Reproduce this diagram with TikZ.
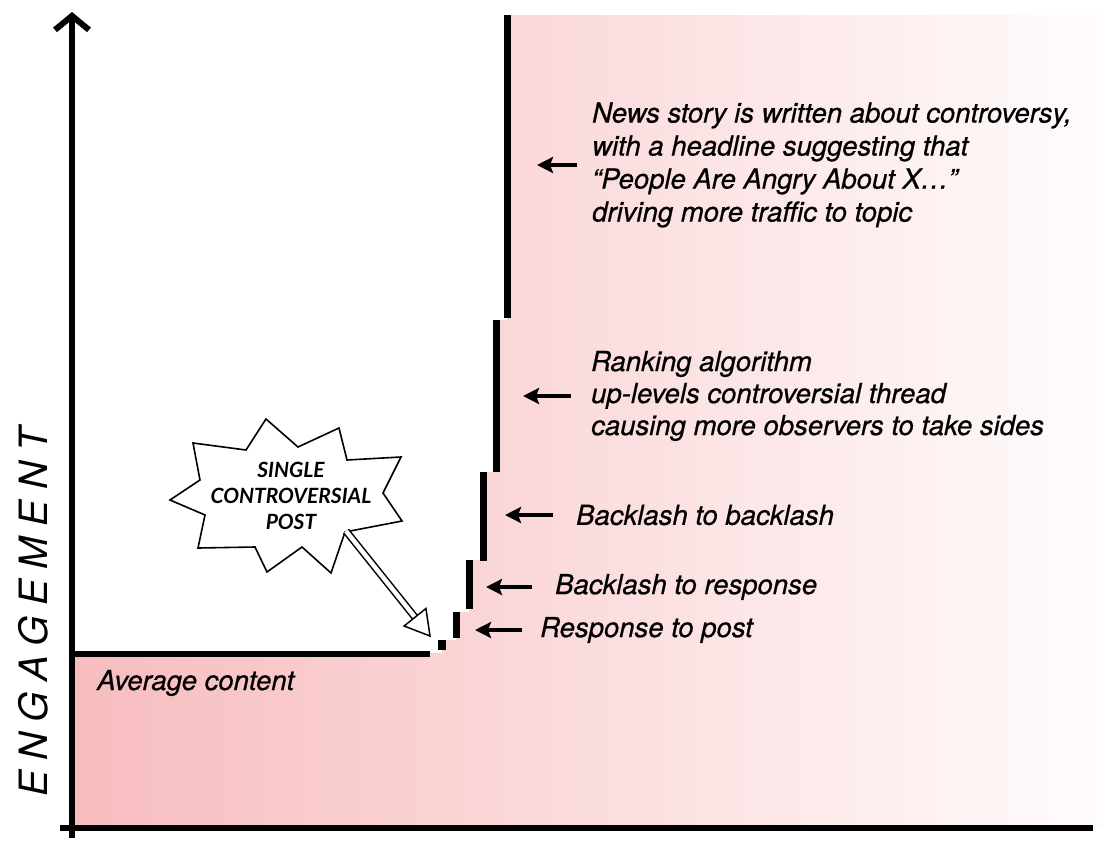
\documentclass[tikz,border=0pt]{standalone}
\usepackage{fontspec}
\setmainfont{TeX Gyre Heros}
\newfontfamily\burstfont{Lato}
\usetikzlibrary{arrows.meta,calc}
\definecolor{blush}{RGB}{247,188,190}
\definecolor{fade}{RGB}{255,252,252}
\tikzset{
  axis/.style={line width=6pt},
  stepline/.style={line width=7pt},
  pointer/.style={line width=3.6pt,-{Stealth[length=16pt,width=16pt,inset=3pt]}},
  note/.style={font=\fontsize{27.5}{32}\selectfont\itshape\addfontfeature{FakeBold=0.7},anchor=west,align=left,inner sep=0pt},
}
\begin{document}
\begin{tikzpicture}[x=1pt,y=-1pt]
\useasboundingbox (0,0) rectangle (1104,844);
% area under the curve
\shade[left color=blush,right color=fade]
 (72,653) -- (442,653) -- (442,640) -- (456,640) -- (456,612) -- (469,612)
 -- (469,560) -- (483,560) -- (483,472) -- (496,472) -- (496,320)
 -- (507,320) -- (507,15) -- (1104,15) -- (1104,828) -- (72,828) -- cycle;
% axes
\coordinate (ybot) at (72,838);
\coordinate (ytop) at (72,12);
\coordinate (xbeg) at (60,828);
\coordinate (xend) at (1093,828);
\draw[axis,-{Straight Barb[length=14pt,width=34pt]}] (ybot) -- (ytop);
\draw[axis] (xbeg) -- (xend);
\node[rotate=90,font=\fontsize{39}{39}\selectfont\itshape\addfontfeature{LetterSpace=27}] (ylab) at (33,612) {ENGAGEMENT};
% the steps
\coordinate (b0) at (72,654);
\coordinate (b1) at (430,654);
\draw[axis] (b0) -- (b1);
\fill (438,640) rectangle (446,650);
\coordinate (s1a) at (456,612); \coordinate (s1b) at (456,638);
\coordinate (s2a) at (469,560); \coordinate (s2b) at (469,609);
\coordinate (s3a) at (483,472); \coordinate (s3b) at (483,561);
\coordinate (s4a) at (496,320); \coordinate (s4b) at (496,472);
\coordinate (s5a) at (507,15);  \coordinate (s5b) at (507,318);
\draw[stepline] (s1a) -- (s1b);
\draw[stepline] (s2a) -- (s2b);
\draw[stepline] (s3a) -- (s3b);
\draw[stepline] (s4a) -- (s4b);
\draw[stepline] (s5a) -- (s5b);
% labels
\node[note] (avg) at (97,683) {Average content};
\node[note] (resp) at (540,630) {Response to post};
\node[note] (brsp) at (555,587) {Backlash to response};
\node[note] (bbl) at (576,515) {Backlash to backlash};
\node[note] (rank) at (591,396) {Ranking algorithm\\up-levels controversial thread\\causing more observers to take sides};
\node[note,font=\fontsize{27.5}{33}\selectfont\itshape\addfontfeature{FakeBold=0.7}] (news) at (592,165) {News story is written about controversy,\\with a headline suggesting that\\``People Are Angry About X\ldots''\\driving more traffic to topic};
\draw[pointer,shorten <=18pt,shorten >=19pt] (resp.west) -- (resp.west -| s1a);
\draw[pointer,shorten <=23pt,shorten >=17pt] (brsp.west) -- (brsp.west -| s2a);
\draw[pointer,shorten <=23pt,shorten >=22pt] (bbl.west) -- (bbl.west -| s3a);
\draw[pointer,shorten <=20pt,shorten >=27pt] (rank.west) -- (rank.west -| s4a);
\draw[pointer,shorten <=15pt,shorten >=30pt] (news.west) -- (news.west -| s5a);
% starburst
\draw[line width=1.6pt,fill=white,line join=miter]
 (266,419) -- (298,447) -- (339,428) -- (347,460) -- (401,457) -- (383,493)
 -- (402,521) -- (345,532) -- (331,573) -- (302,547) -- (267,572) -- (255,547)
 -- (198,548) -- (205,515) -- (170,500) -- (200,480) -- (193,443) -- (246,450) -- cycle;
\node[font=\burstfont\bfseries\itshape\fontsize{21}{26}\selectfont,align=center] (post) at (291,496) {SINGLE\\CONTROVERSIAL\\POST};
\coordinate (bpt) at (346,531);
\coordinate (dpt) at (430,636);
\coordinate (hb) at ($(dpt)!24pt!(bpt)$);
\draw[line width=1.5pt,double,double distance=4.5pt,shorten >=20pt] (bpt) -- (dpt);
\draw[line width=1.5pt,fill=white,line join=miter] (dpt) -- ($(hb)!14pt!90:(dpt)$) -- ($(hb)!14pt!-90:(dpt)$) -- cycle;
\end{tikzpicture}
\end{document}
